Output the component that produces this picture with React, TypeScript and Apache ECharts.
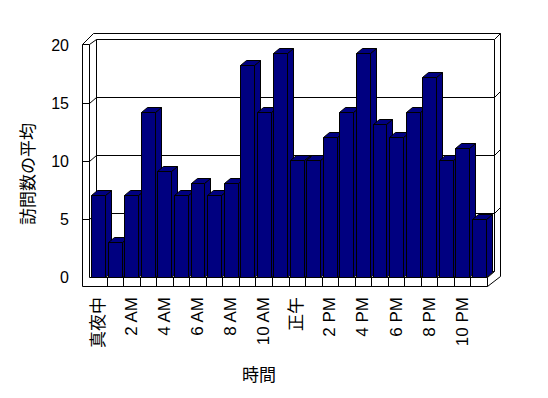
import React, { useEffect, useRef } from "react";
import * as echarts from "echarts";

const hours = [
  "真夜中", "1 AM", "2 AM", "3 AM", "4 AM", "5 AM", "6 AM", "7 AM", "8 AM", "9 AM", "10 AM", "11 AM",
  "正午", "1 PM", "2 PM", "3 PM", "4 PM", "5 PM", "6 PM", "7 PM", "8 PM", "9 PM", "10 PM", "11 PM",
];
const visits = [
  7.1, 3.0, 7.1, 14.2, 9.1, 7.1, 8.1, 7.1, 8.1, 18.3, 14.2, 19.3,
  10.1, 10.1, 12.1, 14.2, 19.3, 13.2, 12.1, 14.2, 17.2, 10.1, 11.1, 5.0,
];
const yTicks = [0, 5, 10, 15, 20];
const yTitle = "訪問数の平均";
const xTitle = "時間";

const FONT = "'Liberation Sans', Arial, 'Noto Sans CJK JP', sans-serif";
const BAR = "#000080";

export default function App() {
  const ref = useRef<HTMLDivElement>(null);
  useEffect(() => {
    if (!ref.current) return;
    const chart = echarts.init(ref.current, undefined, { renderer: "svg" });
    const px = (v: number) => Math.round(v) + 0.5;
    const yMax = yTicks[yTicks.length - 1];

    const frameRender = (_p: any, api: any) => {
      const cw = api.size([1, 0])[0];
      const x0 = api.coord([0, 0])[0] - cw / 2;
      const x1 = api.coord([hours.length - 1, 0])[0] + cw / 2;
      const yf = (v: number) => api.coord([0, v])[1];
      const top = yf(yMax);
      const base = yf(0);
      const DX = 7, DY = -6, WALL = 8, FLOOR = 9, T = 6;
      const xo = x0 - WALL; // left wall outer
      const xi = x0 - 1; // left wall inner
      const bx0 = xi + DX; // back wall left
      const bx1 = x1 + DX; // back wall right
      const children: any[] = [];
      const line = (a: number, b: number, c: number, d: number) =>
        children.push({
          type: "line",
          shape: { x1: px(a), y1: px(b), x2: px(c), y2: px(d) },
          style: { stroke: "#000", lineWidth: 1 },
        });
      // left wall front face
      line(xo, top - 1, xo, base + FLOOR);
      line(xi, top - 1, xi, base);
      line(xo, top - 1, xi, top - 1);
      // left wall top / back wall top
      line(xo, top - 1, xo + 11, top - 12);
      line(xi, top - 1, bx0, top + DY);
      line(bx0, top + DY, bx1, top + DY);
      line(xo + 11, top - 12, bx1 + T, top - 12);
      line(bx1, top + DY, bx1 + T, top + DY - T);
      // back wall verticals
      line(bx0, top + DY, bx0, base + DY);
      line(bx1, top + DY, bx1, base + DY);
      line(bx1 + T, top + DY - T, bx1 + T, base - 1);
      // floor
      line(bx0, base + DY, bx1, base + DY);
      line(xi, base, x1, base);
      line(xo, base + FLOOR, x1, base + FLOOR);
      line(x1, base, x1, base + FLOOR);
      line(x1, base, bx1, base + DY);
      line(x1, base + FLOOR, bx1 + T, base - 1);
      for (let i = 1; i < hours.length; i++) {
        const x = x0 + i * cw;
        line(x, base, x, base + FLOOR);
      }
      // gridlines
      yTicks.forEach((v) => {
        if (v === 0 || v === yMax) return;
        const y = yf(v);
        line(xo, y, xi, y);
        line(xi, y, bx0, y + DY);
        line(bx0, y + DY, bx1, y + DY);
        line(bx1, y + DY, bx1 + T, y + DY - T);
      });
      return { type: "group", children };
    };

    const barRender = (_p: any, api: any) => {
      const cw = api.size([1, 0])[0];
      const i = api.value(0);
      const v = api.value(1);
      const cx = api.coord([i, 0])[0];
      const y0 = api.coord([i, 0])[1];
      const yt = api.coord([i, v])[1];
      const hw = cw * 0.42;
      const BDX = 6, BDY = -5;
      const l = px(cx - hw), r = px(cx + hw), t = px(yt), b = px(y0);
      const st = { fill: BAR, stroke: "#000", lineWidth: 1 };
      return {
        type: "group",
        children: [
          { type: "polygon", shape: { points: [[l, t], [r, t], [r, b], [l, b]] }, style: st },
          { type: "polygon", shape: { points: [[r, b], [r + BDX, b + BDY], [r + BDX, t + BDY], [r, t]] }, style: st },
          { type: "polygon", shape: { points: [[l, t], [r, t], [r + BDX, t + BDY], [l + BDX, t + BDY]] }, style: st },
        ],
      };
    };

    chart.setOption({
      animation: false,
      backgroundColor: "#fff",
      grid: { left: 90, right: 61, top: 45, bottom: 121 },
      xAxis: {
        type: "category",
        data: hours,
        axisLine: { show: false },
        axisTick: { show: false },
        axisLabel: { interval: 1, rotate: 90, margin: 20, fontSize: 17, color: "#000", fontFamily: FONT },
      },
      yAxis: {
        type: "value",
        min: 0,
        max: yMax,
        interval: 5,
        splitLine: { show: false },
        axisLine: { show: false },
        axisTick: { show: false },
        axisLabel: { margin: 21, fontSize: 16, color: "#000", fontFamily: FONT },
      },
      graphic: [
        {
          type: "text",
          x: 28,
          y: 174,
          rotation: Math.PI / 2,
          style: { text: yTitle, fontSize: 17, fill: "#000", align: "center", verticalAlign: "middle", fontFamily: FONT },
        },
        {
          type: "text",
          x: 259,
          y: 375,
          style: { text: xTitle, fontSize: 17, fill: "#000", align: "center", verticalAlign: "middle", fontFamily: FONT },
        },
      ],
      series: [
        { type: "custom", z: 1, clip: false, renderItem: frameRender, data: [[0, 0]], silent: true },
        { type: "custom", z: 2, clip: false, renderItem: barRender, data: visits.map((v, i) => [i, v]), encode: { x: 0, y: 1 } },
      ],
    });
    return () => chart.dispose();
  }, []);
  return (
    <div
      ref={ref}
      style={{ position: "fixed", left: 0, top: 0, width: 548, height: 398, background: "#fff" }}
    />
  );
}
